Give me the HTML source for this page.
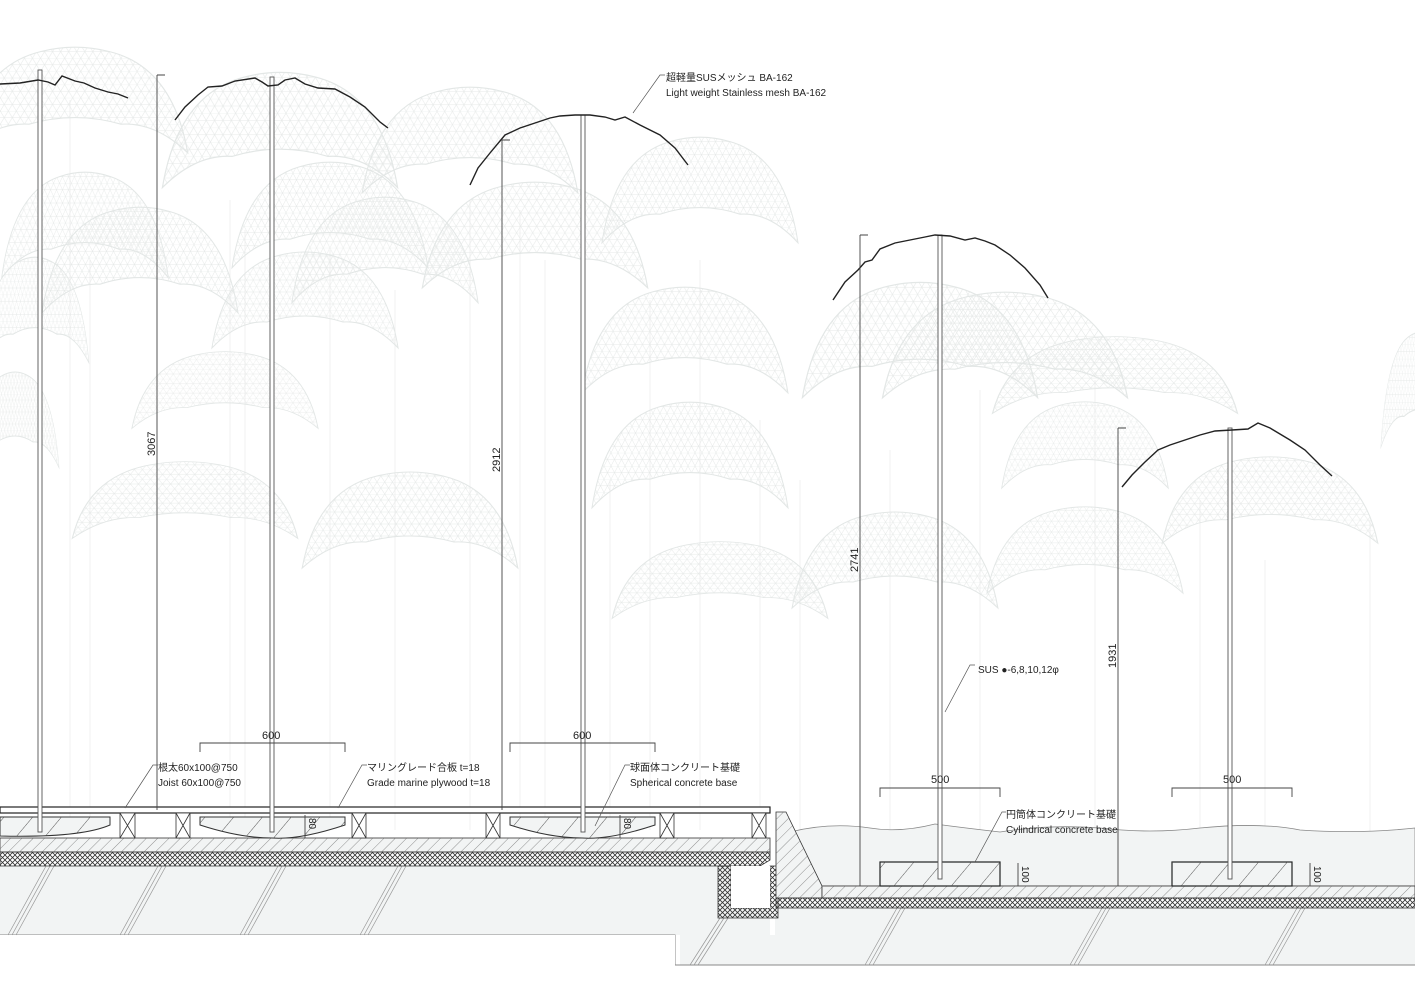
<!DOCTYPE html>
<html><head><meta charset="utf-8"><style>
html,body{margin:0;padding:0;background:#fff;}
svg{display:block;}
text{font-family:"Liberation Sans","Noto Sans CJK JP",sans-serif;fill:#222;}
</style></head><body>
<svg width="1415" height="1000" viewBox="0 0 1415 1000" xmlns="http://www.w3.org/2000/svg">
<defs>
<pattern id="mesh" width="14" height="12" patternUnits="userSpaceOnUse">
<path d="M0,0 L14,0 L7,12 Z M0,12 L7,0 M14,12 L7,0 M0,6 L14,6" fill="none" stroke="#e6e9e8" stroke-width="0.5"/>
</pattern>
<pattern id="hatch" width="8" height="8" patternUnits="userSpaceOnUse" patternTransform="rotate(45)">
<line x1="0" y1="0" x2="0" y2="8" stroke="#666" stroke-width="0.7"/>
</pattern>
<pattern id="hatch2" width="22" height="22" patternUnits="userSpaceOnUse" patternTransform="rotate(40)">
<line x1="0" y1="0" x2="0" y2="22" stroke="#444" stroke-width="0.9"/>
</pattern>
<pattern id="cross" width="5" height="5" patternUnits="userSpaceOnUse">
<path d="M0,0 L5,5 M5,0 L0,5" stroke="#333" stroke-width="0.8"/>
</pattern>
<symbol id="can" viewBox="0 0 200 100" preserveAspectRatio="none">
<path d="M2,98 Q15,20 70,6 Q100,-2 130,6 Q185,20 198,98 Q170,70 140,72 Q100,60 60,72 Q30,70 2,98Z" fill="url(#mesh)" stroke="#e3e7e6" stroke-width="1"/>
</symbol>
</defs>

<g stroke="#f0f0f0" stroke-width="1">
<line x1="70" y1="100" x2="70" y2="830"/><line x1="90" y1="260" x2="90" y2="830"/>
<line x1="230" y1="200" x2="230" y2="830"/><line x1="245" y1="230" x2="245" y2="830"/>
<line x1="330" y1="250" x2="330" y2="830"/><line x1="395" y1="290" x2="395" y2="830"/>
<line x1="470" y1="200" x2="470" y2="830"/><line x1="520" y1="210" x2="520" y2="830"/>
<line x1="545" y1="260" x2="545" y2="830"/><line x1="610" y1="480" x2="610" y2="830"/>
<line x1="650" y1="300" x2="650" y2="830"/><line x1="700" y1="260" x2="700" y2="830"/>
<line x1="760" y1="420" x2="760" y2="830"/><line x1="800" y1="480" x2="800" y2="830"/>
<line x1="890" y1="450" x2="890" y2="885"/><line x1="980" y1="390" x2="980" y2="885"/>
<line x1="1095" y1="380" x2="1095" y2="885"/><line x1="1200" y1="500" x2="1200" y2="885"/>
<line x1="1265" y1="560" x2="1265" y2="885"/><line x1="1370" y1="520" x2="1370" y2="885"/>
</g>
<g>
<use href="#can" x="-40" y="45" width="230" height="110"/>
<use href="#can" x="160" y="70" width="240" height="120"/>
<use href="#can" x="360" y="85" width="220" height="110"/>
<use href="#can" x="0" y="170" width="170" height="110"/>
<use href="#can" x="230" y="160" width="200" height="110"/>
<use href="#can" x="290" y="195" width="190" height="110"/>
<use href="#can" x="40" y="205" width="200" height="110"/>
<use href="#can" x="600" y="135" width="200" height="110"/>
<use href="#can" x="210" y="250" width="190" height="100"/>
<use href="#can" x="-20" y="255" width="110" height="110"/>
<use href="#can" x="580" y="285" width="210" height="110"/>
<use href="#can" x="130" y="350" width="190" height="80"/>
<use href="#can" x="-30" y="370" width="90" height="100"/>
<use href="#can" x="800" y="280" width="240" height="120"/>
<use href="#can" x="990" y="335" width="250" height="80"/>
<use href="#can" x="590" y="400" width="200" height="110"/>
<use href="#can" x="1000" y="400" width="170" height="90"/>
<use href="#can" x="1160" y="455" width="220" height="90"/>
<use href="#can" x="70" y="460" width="230" height="80"/>
<use href="#can" x="300" y="470" width="220" height="100"/>
<use href="#can" x="790" y="510" width="210" height="100"/>
<use href="#can" x="610" y="540" width="220" height="80"/>
<use href="#can" x="880" y="290" width="250" height="110"/>
<use href="#can" x="985" y="505" width="200" height="90"/>
<use href="#can" x="420" y="180" width="230" height="110"/>
<use href="#can" x="1380" y="330" width="80" height="120"/>
</g>

<path d="M790,832 Q830,822 870,828 Q900,833 935,824 Q965,828 1000,832 Q1050,824 1100,828 Q1150,834 1200,828 Q1260,822 1300,830 Q1360,834 1415,828 L1415,886 L790,886Z" fill="#f2f4f4" stroke="#888" stroke-width="0.8"/>

<path d="M0,866 L770,866 L770,935 L680,935 L680,965 L1415,965 L1415,908 L775,908 L775,935 L675,935 L675,935 L0,935Z" fill="#f2f4f4"/>
<path d="M0,935 L675,935 L675,965 L1415,965" fill="none" stroke="#888" stroke-width="1"/>
<rect x="0" y="935" width="675" height="65" fill="#fff"/>
<g stroke="#999" stroke-width="0.7">
<path d="M8,935 L46,866 M12,935 L50,866 M16,935 L54,866"/>
<path d="M120,935 L158,866 M124,935 L162,866 M128,935 L166,866"/>
<path d="M240,935 L278,866 M244,935 L282,866 M248,935 L286,866"/>
<path d="M360,935 L398,866 M364,935 L402,866 M368,935 L406,866"/>
<path d="M690,965 L720,918 M694,965 L724,918 M698,965 L728,918"/>
<path d="M865,965 L897,908 M869,965 L901,908 M873,965 L905,908"/>
<path d="M1070,965 L1102,908 M1074,965 L1106,908 M1078,965 L1110,908"/>
<path d="M1265,965 L1297,908 M1269,965 L1301,908 M1273,965 L1305,908"/>
</g>
<rect x="0" y="838" width="770" height="14" fill="#f2f4f4" stroke="#333" stroke-width="0.8"/>
<rect x="0" y="838" width="770" height="14" fill="url(#hatch)"/>
<path d="M0,852 L770,852 L770,860 L760,866 L0,866Z" fill="url(#cross)" stroke="#333" stroke-width="0.8"/>
<path d="M718,866 L731,866 L731,908 L770,908 L770,866 L778,866 L778,918 L718,918Z" fill="url(#cross)" stroke="#333" stroke-width="0.8"/>
<rect x="731" y="866" width="39" height="42" fill="#fff"/>
<path d="M776,812 L786,812 L822,886 L822,898 L776,898Z" fill="#f2f4f4" stroke="#333" stroke-width="0.8"/>
<path d="M776,812 L786,812 L822,886 L822,898 L776,898Z" fill="url(#hatch)"/>
<rect x="822" y="886" width="593" height="12" fill="#f2f4f4" stroke="#333" stroke-width="0.8"/>
<rect x="822" y="886" width="593" height="12" fill="url(#hatch)"/>
<rect x="776" y="898" width="639" height="10" fill="url(#cross)" stroke="#333" stroke-width="0.8"/>

<rect x="0" y="807" width="770" height="6" fill="#fff" stroke="#222" stroke-width="1.2"/>
<g fill="#fff" stroke="#333" stroke-width="0.8">
<rect x="120" y="813" width="15" height="25"/><path d="M120,813 L135,838 M135,813 L120,838"/>
<rect x="176" y="813" width="14" height="25"/><path d="M176,813 L190,838 M190,813 L176,838"/>
<rect x="352" y="813" width="14" height="25"/><path d="M352,813 L366,838 M366,813 L352,838"/>
<rect x="486" y="813" width="14" height="25"/><path d="M486,813 L500,838 M500,813 L486,838"/>
<rect x="660" y="813" width="14" height="25"/><path d="M660,813 L674,838 M674,813 L660,838"/>
<rect x="752" y="813" width="14" height="25"/><path d="M752,813 L766,838 M766,813 L752,838"/>
</g>
<g stroke="#333" stroke-width="1">
<path d="M0,817 L110,817 L110,825 Q80,838 0,836Z" fill="#f2f4f4"/>
<path d="M200,817 L345,817 L345,825 Q300,840 272,838 Q240,838 200,825Z" fill="#f2f4f4"/>
<path d="M510,817 L655,817 L655,825 Q610,840 582,838 Q550,838 510,825Z" fill="#f2f4f4"/>
</g>
<g>
<path d="M0,817 L110,817 L110,825 Q80,838 0,836Z" fill="url(#hatch2)"/>
<path d="M200,817 L345,817 L345,825 Q300,840 272,838 Q240,838 200,825Z" fill="url(#hatch2)"/>
<path d="M510,817 L655,817 L655,825 Q610,840 582,838 Q550,838 510,825Z" fill="url(#hatch2)"/>
</g>
<rect x="880" y="862" width="120" height="24" fill="#f2f4f4" stroke="#222" stroke-width="1.2"/>
<rect x="880" y="862" width="120" height="24" fill="url(#hatch2)"/>
<rect x="1172" y="862" width="120" height="24" fill="#f2f4f4" stroke="#222" stroke-width="1.2"/>
<rect x="1172" y="862" width="120" height="24" fill="url(#hatch2)"/>

<g fill="#fff" stroke="#555" stroke-width="0.9">
<rect x="38" y="70" width="4" height="762"/>
<rect x="270" y="77" width="4" height="755"/>
<rect x="581" y="115" width="4" height="717"/>
<rect x="938" y="235" width="4" height="644"/>
<rect x="1228" y="428" width="4" height="451"/>
</g>

<g fill="none" stroke="#222" stroke-width="1.4">
<path d="M0,84 L20,83 L38,80 L48,82 L55,85 L62,76 L75,81 L84,83 L95,88 L108,92 L118,94 L128,98"/>
<path d="M175,120 L185,107 L198,95 L208,87 L222,86 L235,81 L255,78 L262,82 L268,86 L278,85 L285,80 L295,78 L305,84 L318,88 L335,89 L350,97 L365,107 L380,122 L388,128"/>
<path d="M470,185 L478,168 L490,153 L505,135 L520,128 L535,123 L550,118 L560,116 L575,115 L590,115 L605,117 L615,120 L625,117 L640,125 L660,135 L675,148 L688,165"/>
<path d="M833,300 L845,282 L858,270 L865,262 L872,260 L880,249 L895,243 L910,240 L925,237 L935,235 L950,236 L965,240 L975,238 L985,241 L995,245 L1010,255 L1025,268 L1040,285 L1048,298"/>
<path d="M1122,487 L1132,475 L1145,462 L1158,450 L1170,445 L1185,440 L1200,435 L1215,431 L1232,430 L1248,429 L1258,423 L1270,428 L1290,440 L1305,450 L1320,465 L1332,476"/>
</g>

<g stroke="#444" stroke-width="0.9" fill="none">
<path d="M157,75 L157,810 M157,75 L165,75"/>
<path d="M502,140 L502,810 M502,140 L510,140"/>
<path d="M860,235 L860,886 M860,235 L868,235"/>
<path d="M1118,428 L1118,886 M1118,428 L1126,428"/>
<path d="M200,752 L200,743 L345,743 L345,752"/>
<path d="M510,752 L510,743 L655,743 L655,752"/>
<path d="M880,797 L880,788 L1000,788 L1000,797"/>
<path d="M1172,797 L1172,788 L1292,788 L1292,797"/>
<path d="M305,815 L305,838 M620,815 L620,838"/>
<path d="M1018,863 L1018,886 M1310,863 L1310,886"/>
</g>
<g font-size="11">
<text transform="translate(155,456) rotate(-90)">3067</text>
<text transform="translate(500,472) rotate(-90)">2912</text>
<text transform="translate(858,572) rotate(-90)">2741</text>
<text transform="translate(1116,668) rotate(-90)">1931</text>
<text x="262" y="739">600</text>
<text x="573" y="739">600</text>
<text x="931" y="783">500</text>
<text x="1223" y="783">500</text>
<text transform="translate(309,818) rotate(90)" font-size="10">80</text>
<text transform="translate(624,818) rotate(90)" font-size="10">80</text>
<text transform="translate(1022,866) rotate(90)" font-size="10">100</text>
<text transform="translate(1314,866) rotate(90)" font-size="10">100</text>
</g>

<g stroke="#555" stroke-width="0.7" fill="none">
<path d="M633,113 L660,75 L665,75"/>
<path d="M945,712 L970,665 L975,665"/>
<path d="M125,808 L153,765 L158,765"/>
<path d="M338,808 L362,765 L367,765"/>
<path d="M595,826 L625,765 L630,765"/>
<path d="M975,862 L1002,812 L1006,812"/>
</g>
<g font-size="10">
<text x="666" y="81">超軽量SUSメッシュ BA-162</text>
<text x="666" y="96">Light weight Stainless mesh BA-162</text>
<text x="978" y="673">SUS ●-6,8,10,12φ</text>
<text x="158" y="771">根太60x100@750</text>
<text x="158" y="786">Joist 60x100@750</text>
<text x="367" y="771">マリングレード合板 t=18</text>
<text x="367" y="786">Grade marine plywood t=18</text>
<text x="630" y="771">球面体コンクリート基礎</text>
<text x="630" y="786">Spherical concrete base</text>
<text x="1006" y="818">円筒体コンクリート基礎</text>
<text x="1006" y="833">Cylindrical concrete base</text>
</g>
</svg>
</body></html>
